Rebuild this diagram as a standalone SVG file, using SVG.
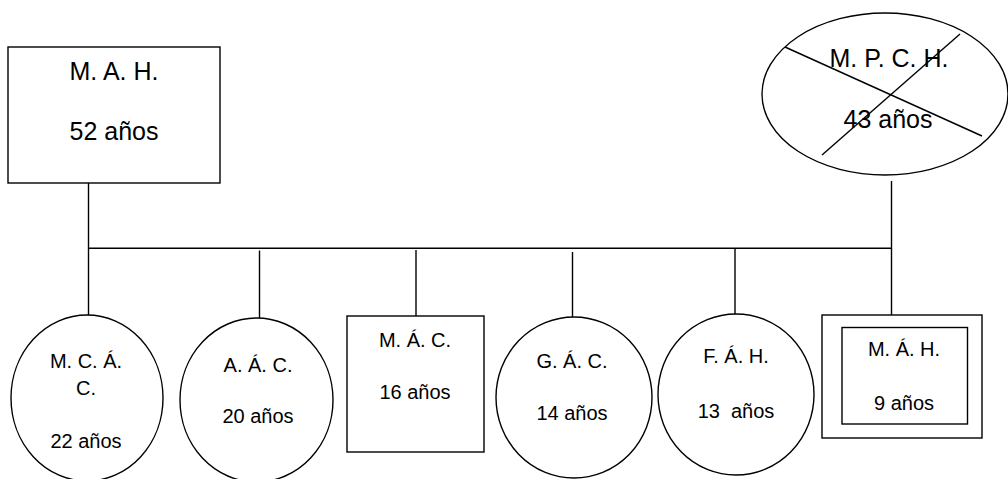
<svg xmlns="http://www.w3.org/2000/svg" width="1008" height="479" viewBox="0 0 1008 479">
<style>
.s{fill:#fff;stroke:#000;stroke-width:1.4}
.c{fill:none;stroke:#000;stroke-width:1.4}
.t{font-family:"Liberation Sans",Arial,sans-serif;fill:#000;text-anchor:middle;white-space:pre}
.b{font-size:25px}
.m{font-size:20px}
</style>
<rect width="1008" height="479" fill="#fff"/>
<g id="connectors">
<line class="c" x1="88.5" y1="183" x2="88.5" y2="315"/>
<line class="c" x1="891.5" y1="181" x2="891.5" y2="315"/>
<line class="c" x1="88" y1="248.3" x2="892" y2="248.3"/>
<line class="c" x1="259.5" y1="250.5" x2="259.5" y2="318"/>
<line class="c" x1="416" y1="250" x2="416" y2="316"/>
<line class="c" x1="572.5" y1="252" x2="572.5" y2="317"/>
<line class="c" x1="735" y1="249" x2="735" y2="314"/>
</g>
<g id="father">
<rect class="s" x="8" y="47" width="212" height="136"/>
<text class="t b" x="114" y="80">M. A. H.</text>
<text class="t b" x="114" y="140">52 años</text>
</g>
<g id="mother">
<ellipse class="s" cx="885" cy="94" rx="123" ry="81"/>
<text class="t b" x="889" y="67">M. P. C. H.</text>
<text class="t b" x="888" y="128">43 años</text>
<line class="c" x1="785" y1="47" x2="982" y2="136"/>
<line class="c" x1="960" y1="34" x2="822" y2="155"/>
</g>
<g id="child1">
<ellipse class="s" cx="87" cy="398" rx="76" ry="83"/>
<text class="t m" x="86" y="368">M. C. Á.</text>
<text class="t m" x="86" y="395">C.</text>
<text class="t m" x="86" y="448">22 años</text>
</g>
<g id="child2">
<ellipse class="s" cx="256.5" cy="400" rx="76.5" ry="82"/>
<text class="t m" x="258" y="372">A. Á. C.</text>
<text class="t m" x="258" y="423">20 años</text>
</g>
<g id="child3">
<rect class="s" x="347" y="316" width="137" height="136"/>
<text class="t m" x="415" y="347">M. Á. C.</text>
<text class="t m" x="415" y="399">16 años</text>
</g>
<g id="child4">
<ellipse class="s" cx="574" cy="397.5" rx="78" ry="80.5"/>
<text class="t m" x="572" y="368">G. Á. C.</text>
<text class="t m" x="572" y="420">14 años</text>
</g>
<g id="child5">
<ellipse class="s" cx="736" cy="394.5" rx="78" ry="80.5"/>
<text class="t m" x="736" y="363">F. Á. H.</text>
<text class="t m" x="736" y="418" xml:space="preserve">13  años</text>
</g>
<g id="child6">
<rect class="s" x="822" y="315" width="160" height="123"/>
<rect class="s" x="842" y="327.5" width="125.5" height="96.5"/>
<text class="t m" x="904" y="356">M. Á. H.</text>
<text class="t m" x="904" y="410">9 años</text>
</g>
</svg>
